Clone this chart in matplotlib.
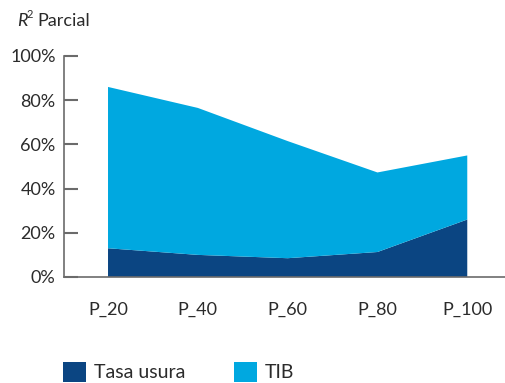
import matplotlib
matplotlib.use("Agg")
import matplotlib.pyplot as plt
from matplotlib.patches import Patch
from matplotlib.ticker import PercentFormatter

categories = ["P_20", "P_40", "P_60", "P_80", "P_100"]
tasa_usura = [13.0, 10.0, 8.5, 11.3, 26.0]
tib = [73.0, 66.5, 53.0, 36.0, 29.0]
yticks = [0, 20, 40, 60, 80, 100]

dark_blue = "#0B4582"
light_blue = "#00A8E0"
text_color = "#2b2b2b"
axis_color = "#6b6b6b"

plt.rcParams["font.family"] = ["Lato", "DejaVu Sans"]

fig = plt.figure(figsize=(5.06, 3.83), dpi=100)
ax = fig.add_axes([0.1265, 0.2768, 0.8715, 0.577])

x = list(range(len(categories)))
ax.stackplot(x, tasa_usura, tib, colors=[dark_blue, light_blue],
             labels=["Tasa usura", "TIB"], linewidth=0)

ax.set_xlim(-0.49, 4.42)
ax.set_ylim(0, 100)
ax.set_yticks(yticks)
ax.yaxis.set_major_formatter(PercentFormatter(decimals=0))
ax.set_xticks(x)
ax.set_xticklabels(categories)

for side in ("top", "right"):
    ax.spines[side].set_visible(False)
for side in ("left", "bottom"):
    ax.spines[side].set_color(axis_color)
    ax.spines[side].set_linewidth(1.2)

ax.tick_params(axis="y", direction="in", length=10, width=1.5, color=axis_color,
               labelsize=13, labelcolor=text_color, pad=6)
ax.tick_params(axis="x", length=0, labelsize=13, labelcolor=text_color, pad=18)

# Axis title: italic R with a superscript 2, then "Parcial"
title_y = 0.932
fig.text(17 / 506, title_y, "R", fontsize=13, style="italic", color=text_color,
         ha="left", va="baseline")
fig.text(27 / 506, title_y + 0.022, "2", fontsize=8, color=text_color,
         ha="left", va="baseline")
fig.text(37 / 506, title_y, "Parcial", fontsize=13, color=text_color,
         ha="left", va="baseline")

handles = [Patch(facecolor=dark_blue, label="Tasa usura"),
           Patch(facecolor=light_blue, label="TIB")]
fig.legend(handles=handles, loc="lower left", bbox_to_anchor=(0.105, -0.022),
           ncol=2, frameon=False, fontsize=14, handlelength=1.2, handleheight=1.2,
           handletextpad=0.4, columnspacing=2.5, borderpad=0,
           labelcolor=text_color)

fig.savefig("out.png", dpi=100)
